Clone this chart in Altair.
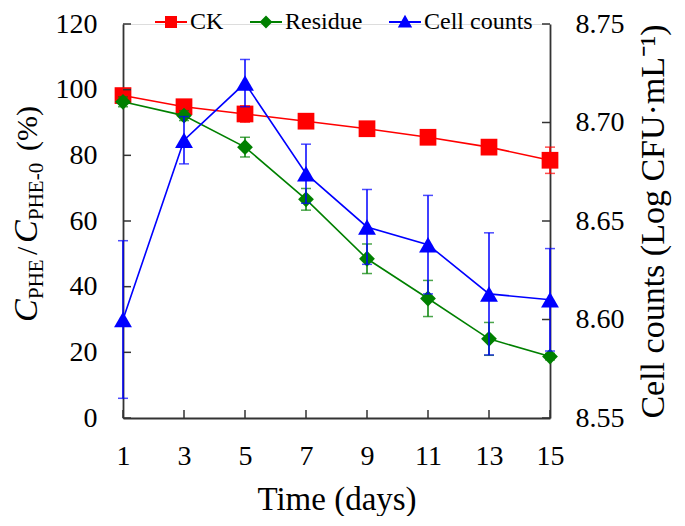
import altair as alt
import pandas as pd

DAYS = [1, 3, 5, 7, 9, 11, 13, 15]
CK = [98.2, 94.8, 92.6, 90.4, 88.1, 85.5, 82.5, 78.5]
CK_ERR = [1.5, 1.5, 2.5, 1.5, 2.0, 2.0, 1.5, 4.0]
RESIDUE = [96.3, 92.1, 82.5, 66.6, 48.5, 36.4, 24.1, 18.7]
RES_ERR = [1.5, 1.5, 3.0, 3.3, 4.5, 5.5, 5.0, 1.0]
CELLS = [8.600, 8.691, 8.720, 8.674, 8.647, 8.638, 8.613, 8.610]
CELL_ERR = [0.040, 0.012, 0.012, 0.015, 0.019, 0.025, 0.031, 0.026]
SERIES = ["CK", "Residue", "Cell counts"]
COLORS = ["#FF0000", "#008000", "#0000FF"]
LEFT_TICKS = [0, 20, 40, 60, 80, 100, 120]
RIGHT_TICKS = [8.55, 8.60, 8.65, 8.70, 8.75]
X_TICKS = [1, 3, 5, 7, 9, 11, 13, 15]

FONT = "Liberation Serif"
AX = "#333333"
W, H = 427, 394

def frame(vals, errs):
    return pd.DataFrame({
        "day": DAYS,
        "v": vals,
        "lo": [a - b for a, b in zip(vals, errs)],
        "hi": [a + b for a, b in zip(vals, errs)],
    })

ck_df = frame(CK, CK_ERR)
res_df = frame(RESIDUE, RES_ERR)
cell_df = frame(CELLS, CELL_ERR)

x_axis = alt.Axis(values=X_TICKS, labelFont=FONT, labelFontSize=28, labelColor="black",
                  labelPadding=24, labelFlush=False, ticks=False, tickSize=0, grid=False,
                  domainColor=AX, domainWidth=1.8,
                  title="Time (days)", titleFont=FONT, titleFontSize=33,
                  titleFontWeight="normal", titleColor="black", titlePadding=13)
X = alt.X("day:Q", scale=alt.Scale(domain=[1, 15], nice=False, zero=False), axis=x_axis)

left_axis = alt.Axis(values=LEFT_TICKS, labelFont=FONT, labelFontSize=28, labelColor="black",
                     labelPadding=26, labelFlush=False, ticks=False, tickSize=0, grid=False,
                     domainColor=AX, domainWidth=1.8, title=None, orient="left")
left_scale = alt.Scale(domain=[0, 120], nice=False, zero=False)

right_axis = alt.Axis(values=RIGHT_TICKS, format=".2f", labelFont=FONT, labelFontSize=28,
                      labelColor="black", labelPadding=25, labelFlush=False, ticks=False,
                      tickSize=0, grid=False, domainColor=AX, domainWidth=1.8, orient="right",
                      title="Cell counts (Log CFU·mL⁻¹)", titleFont=FONT, titleFontSize=34,
                      titleFontWeight="normal", titleColor="black", titleAngle=270,
                      titleBaseline="top", titlePadding=12)
right_scale = alt.Scale(domain=[8.55, 8.75], nice=False, zero=False)


def series_layers(df, color, shape, size, scale, axis):
    base = alt.Chart(df)
    Y = alt.Y("v:Q", scale=scale, axis=axis)
    line = base.mark_line(color=color, strokeWidth=1.6).encode(x=X, y=Y)
    err = base.mark_rule(color=color, strokeWidth=1.5).encode(
        x=X, y=alt.Y("lo:Q", scale=scale, axis=axis), y2="hi:Q")
    cap_lo = base.mark_tick(color=color, orient="horizontal", size=10, thickness=1.5).encode(
        x=X, y=alt.Y("lo:Q", scale=scale, axis=axis))
    cap_hi = base.mark_tick(color=color, orient="horizontal", size=10, thickness=1.5).encode(
        x=X, y=alt.Y("hi:Q", scale=scale, axis=axis))
    pts = base.mark_point(color=color, filled=True, opacity=1, shape=shape, size=size).encode(
        x=X, y=Y)
    return [line, err, cap_lo, cap_hi, pts]

PATHS = [
    "M-1,-0.055H1V0.055H-1Z M-0.375,-0.375H0.375V0.375H-0.375Z",
    "M-1,-0.055H1V0.055H-1Z M0,-0.4L0.4,0L0,0.4L-0.4,0Z",
    "M-1,-0.055H1V0.055H-1Z M0,-0.45L0.45,0.35H-0.45Z",
]

legend_layer = alt.Chart(pd.DataFrame({"s": SERIES})).transform_filter("false").mark_point(
    filled=True, size=1024, opacity=1).encode(
    color=alt.Color("s:N", scale=alt.Scale(domain=SERIES, range=COLORS),
                    legend=alt.Legend(orient="none", legendX=32, legendY=-18,
                                      direction="horizontal", title=None,
                                      labelFont=FONT, labelFontSize=24, labelColor="black",
                                      labelOffset=3, columnPadding=26, symbolSize=1024,
                                      symbolStrokeWidth=0, symbolOpacity=1, padding=0)),
    shape=alt.Shape("s:N", scale=alt.Scale(domain=SERIES, range=PATHS)),
)

left_ticks = alt.Chart(pd.DataFrame({"v": LEFT_TICKS})).mark_rule(color=AX, strokeWidth=1.5).encode(
    y=alt.Y("v:Q", scale=left_scale, axis=left_axis), x=alt.value(0), x2=alt.value(8))
right_ticks = alt.Chart(pd.DataFrame({"v": RIGHT_TICKS})).mark_rule(color=AX, strokeWidth=1.5).encode(
    y=alt.Y("v:Q", scale=right_scale, axis=right_axis), x=alt.value(W - 8), x2=alt.value(W))
bottom_ticks = alt.Chart(pd.DataFrame({"day": X_TICKS})).mark_rule(color=AX, strokeWidth=1.5).encode(
    x=X, y=alt.value(H - 8), y2=alt.value(H))

left = alt.layer(
    *series_layers(ck_df, COLORS[0], "square", 280, left_scale, left_axis),
    *series_layers(res_df, COLORS[1], "diamond", 250, left_scale, left_axis),
    left_ticks, legend_layer,
)
right = alt.layer(
    *series_layers(cell_df, COLORS[2], "triangle-up", 320, right_scale, right_axis),
    right_ticks,
)

# left axis title pieces: C_PHE / C_PHE-0 (%)  (text, size, style, start along axis, baseline x)
TITLE_PARTS = [
    ("C", 34, "italic", 298, -86),
    ("PHE", 21, "normal", 275, -80),
    ("/", 30, "normal", 231, -86),
    ("C", 34, "italic", 219, -86),
    ("PHE-0", 21, "normal", 196, -80),
    ("(%)", 30, "normal", 127, -86),
]
one = pd.DataFrame({"a": [0]})
title_layers = [
    alt.Chart(one).mark_text(text=txt, font=FONT, fontSize=fs, fontStyle=style,
                             angle=270, align="left", baseline="alphabetic",
                             color="black").encode(x=alt.value(xb), y=alt.value(yp))
    for txt, fs, style, yp, xb in TITLE_PARTS
]

chart = alt.layer(left, right, bottom_ticks, *title_layers).resolve_scale(
    y="independent").properties(
    width=W, height=H,
    autosize=alt.AutoSizeParams(type="none"),
    padding={"left": 115, "top": 16, "right": 127, "bottom": 98},
).configure_view(stroke=None).configure(font=FONT)

chart.save("out.html", embed_options={"renderer": "svg", "actions": False})
